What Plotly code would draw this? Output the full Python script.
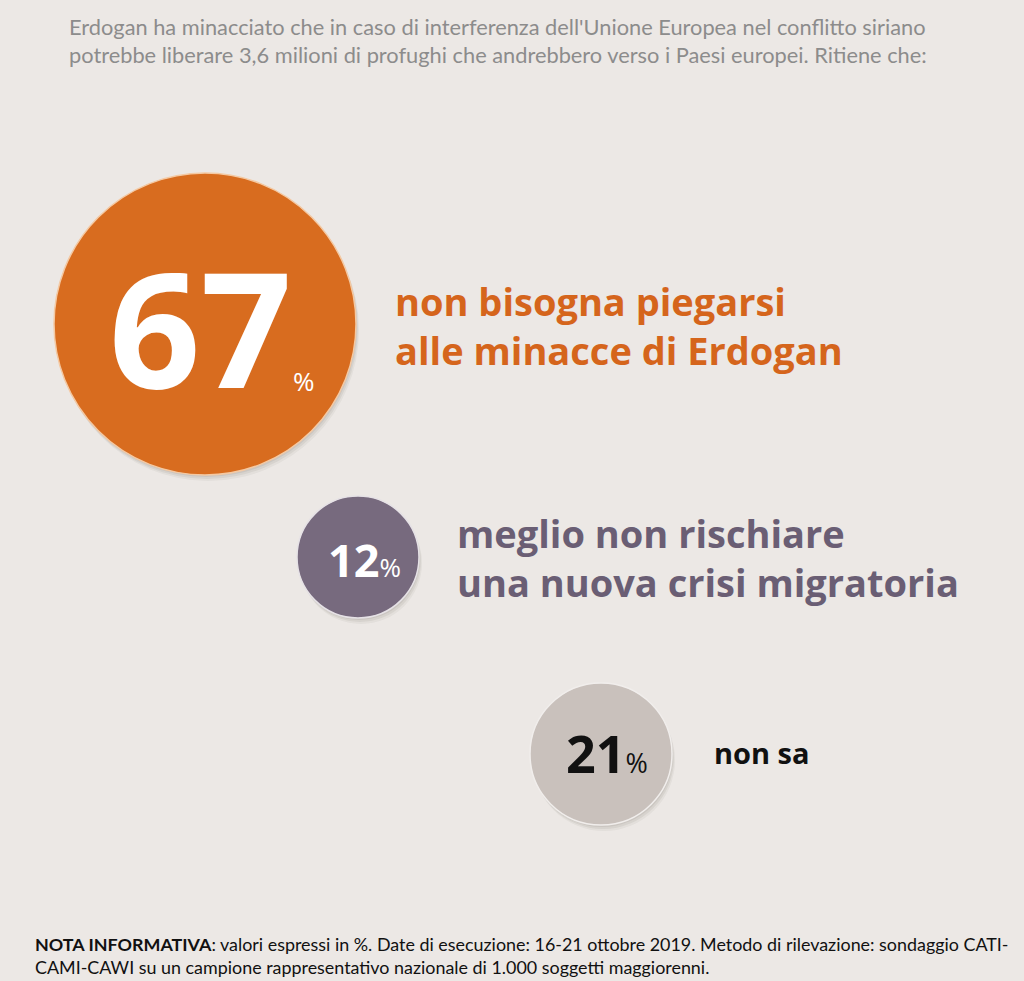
import plotly.graph_objects as go

# ---- data ----
values = [67, 12, 21]
labels = [
    ["non bisogna piegarsi", "alle minacce di Erdogan"],
    ["meglio non rischiare", "una nuova crisi migratoria"],
    ["non sa"],
]
title_lines = [
    "Erdogan ha minacciato che in caso di interferenza dell'Unione Europea nel conflitto siriano",
    "potrebbe liberare 3,6 milioni di profughi che andrebbero verso i Paesi europei. Ritiene che:",
]
note_lines = [
    "<b>NOTA INFORMATIVA</b>: valori espressi in %. Date di esecuzione: 16-21 ottobre 2019. Metodo di rilevazione: sondaggio CATI-",
    "CAMI-CAWI su un campione rappresentativo nazionale di 1.000 soggetti maggiorenni.",
]

# ---- styling / layout (not data) ----
BG = "#ECE8E5"
circle_fill = ["#D86C1F", "#776A7E", "#C9C1BC"]
circle_rim = ["#F4C9A3", "#E6E2E6", "#F1EEEC"]
value_color = ["#FFFFFF", "#FFFFFF", "#111111"]
label_color = ["#D5651C", "#6A5E74", "#111111"]
centers = [(205, 324), (358, 557), (601, 754)]
radii = [151, 61, 71]
num_size = [160, 45, 52]
pct_size = [26, 26, 27]
num_pos = [(200, 326), (364, 559), (607, 752)]
pct_sep = [True, False, False]          # big value: % placed apart at bottom-right
pct_pos = (304, 381)
label_x = [393, 455, 712]
label_yc = [325, 557, 752]               # vertical centre of each label block
label_size = [38, 38, 29]
BOLD_FONT = "Open Sans"

W, H = 1024, 981
fig = go.Figure()
fig.add_trace(go.Scatter(x=[0, W], y=[0, H], mode="markers",
                         marker=dict(opacity=0), hoverinfo="skip", showlegend=False))

shapes = []
for i, v in enumerate(values):
    cx, cy = centers[i]
    r = radii[i]
    for k, op in [(6, 0.05), (4, 0.07), (2, 0.08)]:
        shapes.append(dict(type="circle", xref="x", yref="y",
                           x0=cx - r + k * 0.5, x1=cx + r + k * 0.5,
                           y0=cy - r + k, y1=cy + r + k,
                           fillcolor=f"rgba(60,50,45,{op})", line=dict(width=0), layer="below"))
    shapes.append(dict(type="circle", xref="x", yref="y",
                       x0=cx - r, x1=cx + r, y0=cy - r, y1=cy + r,
                       fillcolor=circle_fill[i], line=dict(color=circle_rim[i], width=1.5),
                       layer="below"))

annotations = []
for i, v in enumerate(values):
    nx, ny = num_pos[i]
    if pct_sep[i]:
        txt = f"<b>{v}</b>"
        annotations.append(dict(
            x=pct_pos[0], y=pct_pos[1], xref="x", yref="y", xanchor="center", yanchor="middle",
            showarrow=False, text="%",
            font=dict(family=BOLD_FONT, size=pct_size[i], color=value_color[i]),
        ))
    else:
        txt = f"<b>{v}</b><span style='font-size:{pct_size[i]}px'>%</span>"
    annotations.append(dict(
        x=nx, y=ny, xref="x", yref="y", xanchor="center", yanchor="middle", showarrow=False,
        text=txt, font=dict(family=BOLD_FONT, size=num_size[i], color=value_color[i]),
    ))
    annotations.append(dict(
        x=label_x[i], y=label_yc[i], xref="x", yref="y", xanchor="left", yanchor="middle",
        align="left", showarrow=False,
        text="<br>".join(f"<b>{line}</b>" for line in labels[i]),
        font=dict(family=BOLD_FONT, size=label_size[i], color=label_color[i]),
    ))

annotations.append(dict(
    x=67, y=40, xref="x", yref="y", xanchor="left", yanchor="middle", align="left",
    showarrow=False, text="<br>".join(title_lines),
    font=dict(family="Lato", size=21.8, color="#8C8C8C"),
))
annotations.append(dict(
    x=33, y=955, xref="x", yref="y", xanchor="left", yanchor="middle", align="left",
    showarrow=False, text="<br>".join(note_lines),
    font=dict(family="Lato", size=17.9, color="#111111"),
))

fig.update_layout(
    width=W, height=H, margin=dict(l=0, r=0, t=0, b=0),
    paper_bgcolor=BG, plot_bgcolor=BG,
    xaxis=dict(range=[0, W], visible=False, fixedrange=True),
    yaxis=dict(range=[H, 0], visible=False, fixedrange=True),
    shapes=shapes, annotations=annotations, showlegend=False,
)
fig.write_html("out.html", config={"displayModeBar": False})
